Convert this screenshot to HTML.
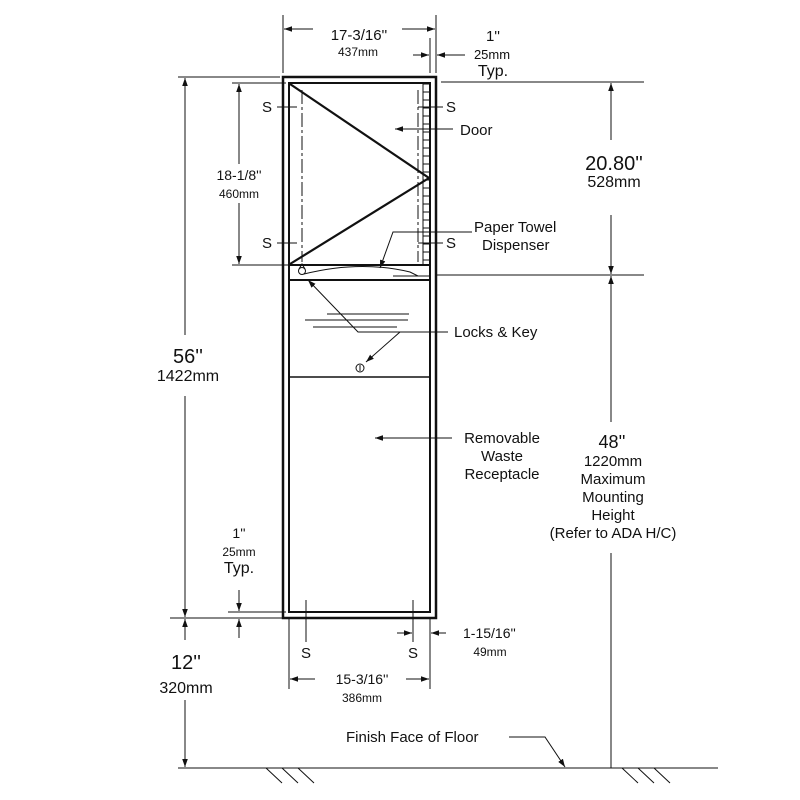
<!DOCTYPE html>
<html><head><style>body{margin:0;background:#fff}svg{display:block}text{font-family:"Liberation Sans",sans-serif;fill:#111}</style></head>
<body>
<svg width="800" height="800" viewBox="0 0 800 800" xmlns="http://www.w3.org/2000/svg">
<defs>
<marker id="a" viewBox="0 0 10 10" refX="10" refY="5" markerWidth="8" markerHeight="8" orient="auto-start-reverse" markerUnits="userSpaceOnUse"><path d="M0,1.5 L10,5 L0,8.5 Z" fill="#111"/></marker>
</defs>
<g stroke="#111" fill="none" stroke-width="1">
<!-- cabinet -->
<rect x="283" y="77" width="153" height="541" stroke-width="2.5"/>
<rect x="289" y="83" width="141" height="529" stroke-width="2"/>
<line x1="289" y1="265" x2="430" y2="265" stroke-width="2"/>
<line x1="289" y1="280" x2="430" y2="280" stroke-width="2"/>
<line x1="289" y1="377" x2="430" y2="377" stroke-width="1.5"/>
<polyline points="290,84 429,178 290,264" stroke-width="2.2"/>
<!-- hinge strip -->
<rect x="423" y="84" width="7" height="181"/>
<path d="M423,92h7M423,100h7M423,108h7M423,116h7M423,124h7M423,132h7M423,140h7M423,148h7M423,156h7M423,164h7M423,172h7M423,180h7M423,188h7M423,196h7M423,204h7M423,212h7M423,220h7M423,228h7M423,236h7M423,244h7M423,252h7M423,260h7"/>
<!-- dashed -->
<line x1="302" y1="90" x2="302" y2="262" stroke-dasharray="14,3,3,3"/>
<line x1="418" y1="90" x2="418" y2="262" stroke-dasharray="14,3,3,3"/>
<!-- dispenser curve -->
<path d="M304,274 Q360,260 410,272 L418,276 L429,276"/>
<line x1="393" y1="276" x2="429" y2="276"/>
<circle cx="302" cy="271" r="3.5"/><path d="M299,269 L302,264 L305,269"/>
<!-- drawer lines -->
<line x1="327" y1="314" x2="409" y2="314"/>
<line x1="305" y1="320" x2="408" y2="320"/>
<line x1="313" y1="327" x2="397" y2="327"/>
<circle cx="360" cy="368" r="4"/><line x1="360" y1="365" x2="360" y2="371"/>
<!-- S leaders top -->
<line x1="277" y1="107" x2="297" y2="107"/><line x1="277" y1="243" x2="297" y2="243"/>
<line x1="418" y1="107" x2="443" y2="107"/><line x1="418" y1="243" x2="443" y2="243"/>
<!-- door arrow -->
<line x1="453" y1="129" x2="395" y2="129" marker-end="url(#a)"/>
<!-- paper towel leader -->
<polyline points="472,232 393,232 380,268" marker-end="url(#a)"/>
<!-- locks -->
<line x1="400" y1="332" x2="448" y2="332"/>
<polyline points="400,332 358,332 308,280" marker-end="url(#a)"/>
<line x1="400" y1="332" x2="366" y2="362" marker-end="url(#a)"/>
<!-- removable -->
<line x1="452" y1="438" x2="375" y2="438" marker-end="url(#a)"/>
<!-- top dims -->
<line x1="283" y1="15" x2="283" y2="73"/><line x1="436" y1="15" x2="436" y2="73"/><line x1="430" y1="38" x2="430" y2="73"/>
<line x1="313" y1="29" x2="284" y2="29" marker-end="url(#a)"/>
<line x1="402" y1="29" x2="435" y2="29" marker-end="url(#a)"/>
<line x1="413" y1="55" x2="429" y2="55" marker-end="url(#a)"/>
<line x1="465" y1="55" x2="437" y2="55" marker-end="url(#a)"/>
<!-- right dims -->
<line x1="441" y1="82" x2="644" y2="82"/><line x1="436" y1="275" x2="644" y2="275"/>
<line x1="611" y1="140" x2="611" y2="83" marker-end="url(#a)"/>
<line x1="611" y1="215" x2="611" y2="274" marker-end="url(#a)"/>
<line x1="611" y1="422" x2="611" y2="276" marker-end="url(#a)"/>
<line x1="611" y1="553" x2="611" y2="768"/>
<!-- left dims -->
<line x1="178" y1="77" x2="280" y2="77"/>
<line x1="232" y1="83" x2="286" y2="83"/><line x1="232" y1="265" x2="290" y2="265"/>
<line x1="185" y1="335" x2="185" y2="78" marker-end="url(#a)"/>
<line x1="185" y1="396" x2="185" y2="617" marker-end="url(#a)"/>
<line x1="239" y1="164" x2="239" y2="84" marker-end="url(#a)"/>
<line x1="239" y1="203" x2="239" y2="264" marker-end="url(#a)"/>
<line x1="228" y1="612" x2="286" y2="612"/><line x1="170" y1="618" x2="282" y2="618"/>
<line x1="239" y1="590" x2="239" y2="611" marker-end="url(#a)"/>
<line x1="239" y1="638" x2="239" y2="619" marker-end="url(#a)"/>
<line x1="185" y1="640" x2="185" y2="619" marker-end="url(#a)"/>
<line x1="185" y1="700" x2="185" y2="767" marker-end="url(#a)"/>
<!-- bottom -->
<line x1="306" y1="600" x2="306" y2="642"/><line x1="413" y1="600" x2="413" y2="642"/>
<line x1="289" y1="618" x2="289" y2="689"/><line x1="430" y1="618" x2="430" y2="689"/>
<line x1="397" y1="633" x2="412" y2="633" marker-end="url(#a)"/>
<line x1="446" y1="633" x2="431" y2="633" marker-end="url(#a)"/>
<line x1="315" y1="679" x2="290" y2="679" marker-end="url(#a)"/>
<line x1="406" y1="679" x2="429" y2="679" marker-end="url(#a)"/>
<!-- floor -->
<line x1="178" y1="768" x2="718" y2="768"/>
<path d="M266,768l16,15M282,768l16,15M298,768l16,15M622,768l16,15M638,768l16,15M654,768l16,15"/>
<polyline points="509,737 545,737 565,767" marker-end="url(#a)"/>
</g>
<g font-size="15">
<text x="359" y="40" text-anchor="middle" font-size="15">17-3/16''</text>
<text x="358" y="56" text-anchor="middle" font-size="12">437mm</text>
<text x="493" y="41" text-anchor="middle" font-size="15">1''</text>
<text x="492" y="59" text-anchor="middle" font-size="13">25mm</text>
<text x="493" y="76" text-anchor="middle" font-size="16">Typ.</text>
<text x="267" y="112" text-anchor="middle">S</text><text x="267" y="248" text-anchor="middle">S</text>
<text x="451" y="112" text-anchor="middle">S</text><text x="451" y="248" text-anchor="middle">S</text>
<text x="460" y="135">Door</text>
<text x="474" y="232">Paper Towel</text>
<text x="482" y="250">Dispenser</text>
<text x="454" y="337">Locks &amp; Key</text>
<text x="502" y="443" text-anchor="middle">Removable</text>
<text x="502" y="461" text-anchor="middle">Waste</text>
<text x="502" y="479" text-anchor="middle">Receptacle</text>
<text x="614" y="170" text-anchor="middle" font-size="20">20.80''</text>
<text x="614" y="187" text-anchor="middle" font-size="16">528mm</text>
<text x="612" y="448" text-anchor="middle" font-size="18">48''</text>
<text x="613" y="466" text-anchor="middle">1220mm</text>
<text x="613" y="484" text-anchor="middle">Maximum</text>
<text x="613" y="502" text-anchor="middle">Mounting</text>
<text x="613" y="520" text-anchor="middle">Height</text>
<text x="613" y="538" text-anchor="middle">(Refer to ADA H/C)</text>
<text x="239" y="180" text-anchor="middle" font-size="14">18-1/8''</text>
<text x="239" y="198" text-anchor="middle" font-size="12">460mm</text>
<text x="188" y="363" text-anchor="middle" font-size="20">56''</text>
<text x="188" y="381" text-anchor="middle" font-size="16">1422mm</text>
<text x="239" y="538" text-anchor="middle" font-size="14">1''</text>
<text x="239" y="556" text-anchor="middle" font-size="12">25mm</text>
<text x="239" y="573" text-anchor="middle" font-size="16">Typ.</text>
<text x="186" y="669" text-anchor="middle" font-size="20">12''</text>
<text x="186" y="693" text-anchor="middle" font-size="16">320mm</text>
<text x="306" y="658" text-anchor="middle">S</text><text x="413" y="658" text-anchor="middle">S</text>
<text x="463" y="638" font-size="14">1-15/16''</text>
<text x="490" y="656" text-anchor="middle" font-size="12">49mm</text>
<text x="362" y="684" text-anchor="middle" font-size="14">15-3/16''</text>
<text x="362" y="702" text-anchor="middle" font-size="12">386mm</text>
<text x="346" y="742">Finish Face of Floor</text>
</g>
</svg>
</body></html>
